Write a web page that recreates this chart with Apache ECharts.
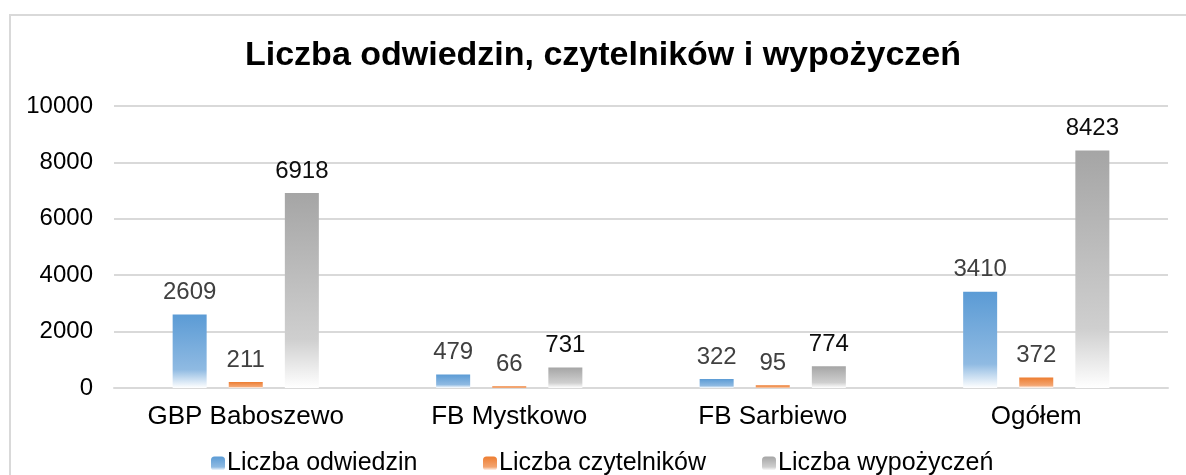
<!DOCTYPE html>
<html>
<head>
<meta charset="utf-8">
<script src="https://cdn.jsdelivr.net/npm/echarts@6/dist/echarts.min.js"></script>
<style>
  html, body { margin: 0; padding: 0; background: #fff; }
  #chart { width: 1186px; height: 475px; }
</style>
</head>
<body>
<div id="chart"></div>
<script>
const categories = ['GBP Baboszewo', 'FB Mystkowo', 'FB Sarbiewo', 'Ogółem']
const seriesNames = ['Liczba odwiedzin', 'Liczba czytelników', 'Liczba wypożyczeń']
const odwiedziny = [2609, 479, 322, 3410]
const czytelnicy = [211, 66, 95, 372]
const wypozyczenia = [6918, 731, 774, 8423]

const font = 'Liberation Sans, Arial, sans-serif'

// gradient like the office fill: solid on top, fading to white at the bottom
const fade = (top, mid) => new echarts.graphic.LinearGradient(0, 0, 0, 1, [
  { offset: 0, color: top },
  { offset: 0.75, color: mid },
  { offset: 1, color: '#ffffff' }
])

const makeSeries = (name, data, top, mid, labelColor) => ({
  name,
  type: 'bar',
  data,
  barWidth: 34,
  barGap: '65%',
  itemStyle: { color: fade(top, mid) },
  label: {
    show: true,
    position: 'top',
    distance: 10,
    color: labelColor,
    fontSize: 24,
    fontFamily: font
  }
})

// one legend per entry so the spacing follows the original
const legendLefts = [206, 478, 757]
const makeLegend = (name, left) => ({
  data: [name],
  left,
  top: 446,
  itemWidth: 14,
  itemHeight: 14,
  textStyle: {
    fontFamily: font,
    fontSize: 25,
    color: '#000',
    padding: [0, 0, 0, -3]
  }
})

const chart = echarts.init(document.getElementById('chart'))

const option = {
  animation: false,
  backgroundColor: '#fff',
  graphic: [
    {
      type: 'rect',
      shape: { x: 10, y: 15, width: 1200, height: 500 },
      style: { fill: 'none', stroke: '#d9d9d9', lineWidth: 2 },
      z: -1
    }
  ],
  title: {
    text: 'Liczba odwiedzin, czytelników i wypożyczeń',
    left: 240,
    top: 34,
    textStyle: {
      fontFamily: font,
      fontSize: 34,
      fontWeight: 'bold',
      color: '#000'
    }
  },
  legend: seriesNames.map((n, i) => makeLegend(n, legendLefts[i])),
  grid: {
    left: 114,
    right: 18,
    top: 106,
    bottom: 87
  },
  xAxis: {
    type: 'category',
    data: categories,
    axisTick: { show: false },
    axisLine: { lineStyle: { color: '#d9d9d9', width: 2 } },
    axisLabel: {
      margin: 16,
      fontFamily: font,
      fontSize: 26,
      color: '#000'
    }
  },
  yAxis: {
    type: 'value',
    min: 0,
    max: 10000,
    interval: 2000,
    axisLine: { show: false },
    axisTick: { show: false },
    splitLine: { lineStyle: { color: '#d9d9d9', width: 2 } },
    axisLabel: {
      margin: 21,
      fontFamily: font,
      fontSize: 24,
      color: '#000',
      formatter: v => String(v)
    }
  },
  series: [
    makeSeries(seriesNames[0], odwiedziny, '#5b9bd5', '#8fbae2', '#404040'),
    makeSeries(seriesNames[1], czytelnicy, '#ed7d31', '#f3a571', '#404040'),
    makeSeries(seriesNames[2], wypozyczenia, '#a5a5a5', '#cfcfcf', '#0d0d0d')
  ]
}

chart.setOption(option)
</script>
</body>
</html>
